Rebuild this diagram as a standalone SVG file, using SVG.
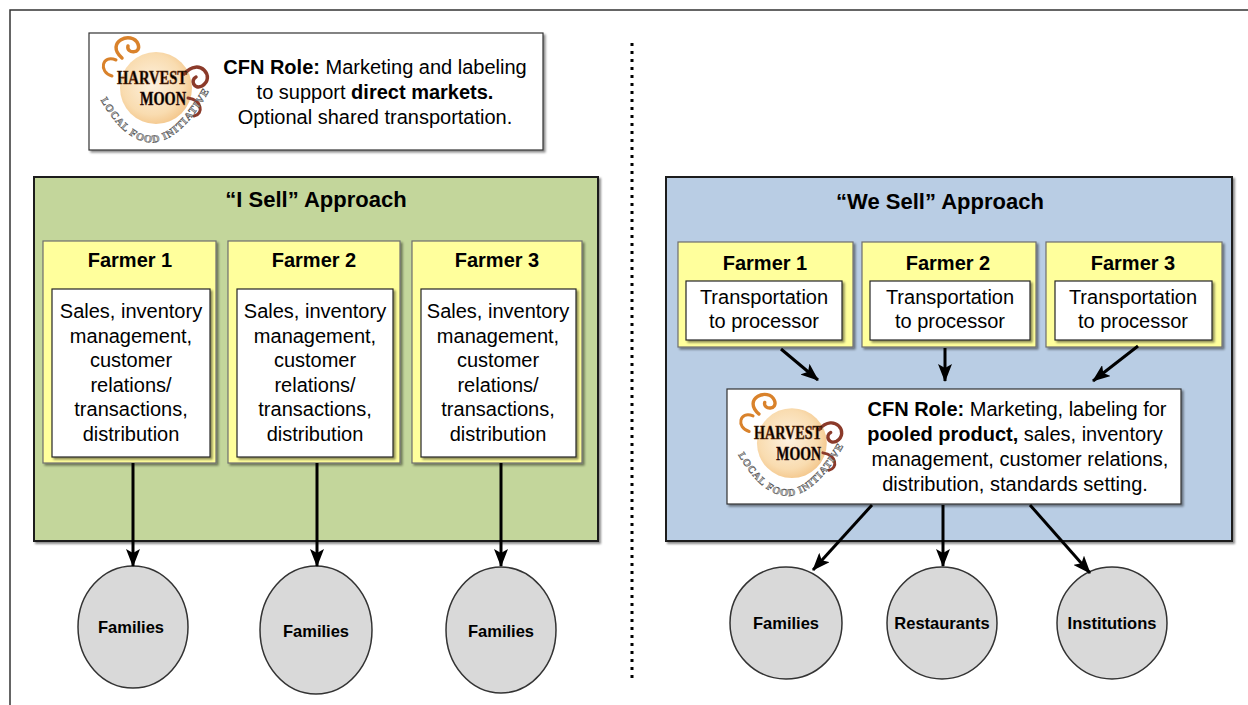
<svg xmlns="http://www.w3.org/2000/svg" xmlns:xlink="http://www.w3.org/1999/xlink" width="1248" height="705" viewBox="0 0 1248 705">
<style>
  text { font-family: "Liberation Sans", Arial, sans-serif; fill: #000; }
  .body { font-size: 20px; text-anchor: middle; }
  .b { font-weight: bold; }
  .title { font-size: 22px; font-weight: bold; text-anchor: middle; }
  .farmer { font-size: 20px; font-weight: bold; text-anchor: middle; }
  .circ { font-size: 16.5px; font-weight: bold; text-anchor: middle; }
  .panel { stroke: #1a1a1a; stroke-width: 2; }
  .yellow { fill: #ffff9c; stroke: #6e6e6e; stroke-width: 1.2; }
  .white { fill: #ffffff; stroke: #262626; stroke-width: 1.2; }
  .node { fill: #d9d9d9; stroke: #333; stroke-width: 1.5; }
  .conn { stroke: #000; stroke-width: 3; fill: none; marker-end: url(#arr); }
  .harv { font-family: "Liberation Serif", "DejaVu Serif", serif; font-weight: bold; text-anchor: middle; }
  .ring { font-family: "Liberation Serif", "DejaVu Serif", serif; font-weight: bold; font-size: 10.5px; fill: #b8b8b8; stroke: #4d4d4d; stroke-width: 0.45; }
  .sw-o { fill: none; stroke: #d9822b; stroke-linecap: round; }
  .sw-b { fill: none; stroke: #8b3a2a; stroke-linecap: round; }
</style>
<defs>
  <marker id="arr" markerUnits="userSpaceOnUse" markerWidth="18" markerHeight="14" refX="17" refY="7" orient="auto">
    <path d="M0,0 L18,7 L0,14 L4,7 z" fill="#000"/>
  </marker>
  <filter id="sh" x="-5%" y="-5%" width="115%" height="115%">
    <feDropShadow dx="2" dy="2" stdDeviation="0.8" flood-color="#000" flood-opacity="0.45"/>
  </filter>
  <radialGradient id="moon" cx="0.45" cy="0.45" r="0.6">
    <stop offset="0" stop-color="#fdf1df"/>
    <stop offset="0.7" stop-color="#f9dcb0"/>
    <stop offset="1" stop-color="#f3c487"/>
  </radialGradient>
  <path id="arc" d="M -56 0 Q 0 104 60 -6"/>
</defs>

<!-- frame -->
<path d="M10 705 L10 10 L1248 10" fill="none" stroke="#333" stroke-width="1.5"/>
<line x1="632" y1="43" x2="632" y2="678" stroke="#000" stroke-width="3" stroke-dasharray="3 5"/>

<!-- top CFN role box -->
<g id="cfn-top">
  <rect x="89" y="33" width="454" height="117" fill="#fff" stroke="#333" stroke-width="1.2" filter="url(#sh)"/>
  <g id="logo-top" transform="translate(152,92)">
    <circle cx="4" cy="-4" r="36" fill="url(#moon)"/>
    <path class="sw-o" d="M -30 -34 C -48 -50 -20 -62 -14 -48 C -10 -38 -26 -38 -24 -46" stroke-width="3.5"/>
    <path class="sw-o" d="M -40 -16 C -54 -20 -50 -38 -36 -32" stroke-width="3"/>
    <path class="sw-b" d="M 32 -18 C 48 -36 64 -14 50 -6 C 42 -2 38 -12 44 -15" stroke-width="3.5"/>
    <path class="sw-b" d="M 36 6 C 50 8 52 22 42 24" stroke-width="3"/>
    <text class="harv" x="0" y="-8" font-size="19" fill="#e38a2d" stroke="#7a3b12" stroke-width="0.6" textLength="70" lengthAdjust="spacingAndGlyphs">HARVEST</text>
    <text class="harv" x="11" y="13" font-size="19" fill="#8b3b2b" stroke="#4a1a10" stroke-width="0.5" textLength="46" lengthAdjust="spacingAndGlyphs">MOON</text>
    <text class="ring"><textPath xlink:href="#arc" href="#arc" startOffset="9" textLength="150" lengthAdjust="spacing">LOCAL FOOD INITIATIVE</textPath></text>
  </g>
  <text class="body" x="375" y="74"><tspan class="b">CFN Role:</tspan> Marketing and labeling</text>
  <text class="body" x="375" y="99">to support <tspan class="b">direct markets.</tspan></text>
  <text class="body" x="375" y="124">Optional shared transportation.</text>
</g>

<!-- I Sell panel -->
<g id="i-sell">
  <rect class="panel" x="34" y="177" width="564" height="364" fill="#c3d69b" filter="url(#sh)"/>
  <text class="title" x="316" y="207">“I Sell” Approach</text>
</g>
<g id="i-farmer1">
  <rect class="yellow" x="43" y="241" width="173" height="222" filter="url(#sh)"/>
  <text class="farmer" x="130" y="267">Farmer 1</text>
  <rect class="white" x="52" y="289" width="158" height="168" filter="url(#sh)"/>
  <text class="body" x="131" y="318">Sales, inventory</text>
  <text class="body" x="131" y="342.6">management,</text>
  <text class="body" x="131" y="367.2">customer</text>
  <text class="body" x="131" y="391.8">relations/</text>
  <text class="body" x="131" y="416.4">transactions,</text>
  <text class="body" x="131" y="441">distribution</text>
</g>
<g id="i-farmer2">
  <rect class="yellow" x="228" y="241" width="172" height="222" filter="url(#sh)"/>
  <text class="farmer" x="314" y="267">Farmer 2</text>
  <rect class="white" x="237" y="289" width="156" height="168" filter="url(#sh)"/>
  <text class="body" x="315" y="318">Sales, inventory</text>
  <text class="body" x="315" y="342.6">management,</text>
  <text class="body" x="315" y="367.2">customer</text>
  <text class="body" x="315" y="391.8">relations/</text>
  <text class="body" x="315" y="416.4">transactions,</text>
  <text class="body" x="315" y="441">distribution</text>
</g>
<g id="i-farmer3">
  <rect class="yellow" x="412" y="241" width="170" height="222" filter="url(#sh)"/>
  <text class="farmer" x="497" y="267">Farmer 3</text>
  <rect class="white" x="421" y="289" width="155" height="168" filter="url(#sh)"/>
  <text class="body" x="498" y="318">Sales, inventory</text>
  <text class="body" x="498" y="342.6">management,</text>
  <text class="body" x="498" y="367.2">customer</text>
  <text class="body" x="498" y="391.8">relations/</text>
  <text class="body" x="498" y="416.4">transactions,</text>
  <text class="body" x="498" y="441">distribution</text>
</g>

<!-- We Sell panel -->
<g id="we-sell">
  <rect class="panel" x="666" y="177" width="566" height="364" fill="#b9cde4" filter="url(#sh)"/>
  <text class="title" x="940" y="209">“We Sell” Approach</text>
</g>
<g id="we-farmer1">
  <rect class="yellow" x="678" y="242" width="175" height="105" filter="url(#sh)"/>
  <text class="farmer" x="765" y="270">Farmer 1</text>
  <rect class="white" x="686" y="281" width="156" height="59" filter="url(#sh)"/>
  <text class="body" x="764" y="304">Transportation</text>
  <text class="body" x="764" y="328">to processor</text>
</g>
<g id="we-farmer2">
  <rect class="yellow" x="862" y="242" width="174" height="105" filter="url(#sh)"/>
  <text class="farmer" x="948" y="270">Farmer 2</text>
  <rect class="white" x="870" y="281" width="160" height="59" filter="url(#sh)"/>
  <text class="body" x="950" y="304">Transportation</text>
  <text class="body" x="950" y="328">to processor</text>
</g>
<g id="we-farmer3">
  <rect class="yellow" x="1046" y="242" width="176" height="105" filter="url(#sh)"/>
  <text class="farmer" x="1133" y="270">Farmer 3</text>
  <rect class="white" x="1055" y="281" width="157" height="59" filter="url(#sh)"/>
  <text class="body" x="1133" y="304">Transportation</text>
  <text class="body" x="1133" y="328">to processor</text>
</g>
<g id="cfn-pooled">
  <rect x="727" y="389" width="454" height="115" fill="#fff" stroke="#333" stroke-width="1.2" filter="url(#sh)"/>
  <g id="logo-bottom" transform="translate(788,447) scale(0.97)">
    <circle cx="4" cy="-4" r="36" fill="url(#moon)"/>
    <path class="sw-o" d="M -30 -34 C -48 -50 -20 -62 -14 -48 C -10 -38 -26 -38 -24 -46" stroke-width="3.5"/>
    <path class="sw-o" d="M -40 -16 C -54 -20 -50 -38 -36 -32" stroke-width="3"/>
    <path class="sw-b" d="M 32 -18 C 48 -36 64 -14 50 -6 C 42 -2 38 -12 44 -15" stroke-width="3.5"/>
    <path class="sw-b" d="M 36 6 C 50 8 52 22 42 24" stroke-width="3"/>
    <text class="harv" x="0" y="-8" font-size="19" fill="#e38a2d" stroke="#7a3b12" stroke-width="0.6" textLength="70" lengthAdjust="spacingAndGlyphs">HARVEST</text>
    <text class="harv" x="11" y="13" font-size="19" fill="#8b3b2b" stroke="#4a1a10" stroke-width="0.5" textLength="46" lengthAdjust="spacingAndGlyphs">MOON</text>
    <text class="ring"><textPath xlink:href="#arc" href="#arc" startOffset="9" textLength="150" lengthAdjust="spacing">LOCAL FOOD INITIATIVE</textPath></text>
  </g>
  <text class="body" x="1017" y="416"><tspan class="b">CFN Role:</tspan> Marketing, labeling for</text>
  <text class="body" x="1015" y="441"><tspan class="b">pooled product,</tspan> sales, inventory</text>
  <text class="body" x="1020" y="466">management, customer relations,</text>
  <text class="body" x="1015" y="491">distribution, standards setting.</text>
</g>

<!-- consumer nodes -->
<g id="families-1"><ellipse class="node" cx="133" cy="627" rx="55" ry="61"/><text class="circ" x="131" y="633">Families</text></g>
<g id="families-2"><ellipse class="node" cx="316" cy="630" rx="56" ry="64"/><text class="circ" x="316" y="637">Families</text></g>
<g id="families-3"><ellipse class="node" cx="501" cy="630" rx="55" ry="63"/><text class="circ" x="501" y="637">Families</text></g>
<g id="families-we"><ellipse class="node" cx="786" cy="623" rx="56" ry="56"/><text class="circ" x="786" y="629">Families</text></g>
<g id="restaurants"><ellipse class="node" cx="942" cy="623" rx="55" ry="56"/><text class="circ" x="942" y="629">Restaurants</text></g>
<g id="institutions"><ellipse class="node" cx="1112" cy="623" rx="55" ry="56"/><text class="circ" x="1112" y="629">Institutions</text></g>

<!-- connectors -->
<g id="connectors">
  <line class="conn" x1="133" y1="463" x2="133" y2="566"/>
  <line class="conn" x1="317" y1="463" x2="317" y2="566"/>
  <line class="conn" x1="501" y1="463" x2="501" y2="566"/>
  <line class="conn" x1="781" y1="349" x2="818" y2="380"/>
  <line class="conn" x1="945" y1="348" x2="945" y2="381"/>
  <line class="conn" x1="1138" y1="346" x2="1093" y2="381"/>
  <line class="conn" x1="872" y1="505" x2="813" y2="570"/>
  <line class="conn" x1="943" y1="505" x2="943" y2="566"/>
  <line class="conn" x1="1030" y1="505" x2="1090" y2="573"/>
</g>
</svg>
